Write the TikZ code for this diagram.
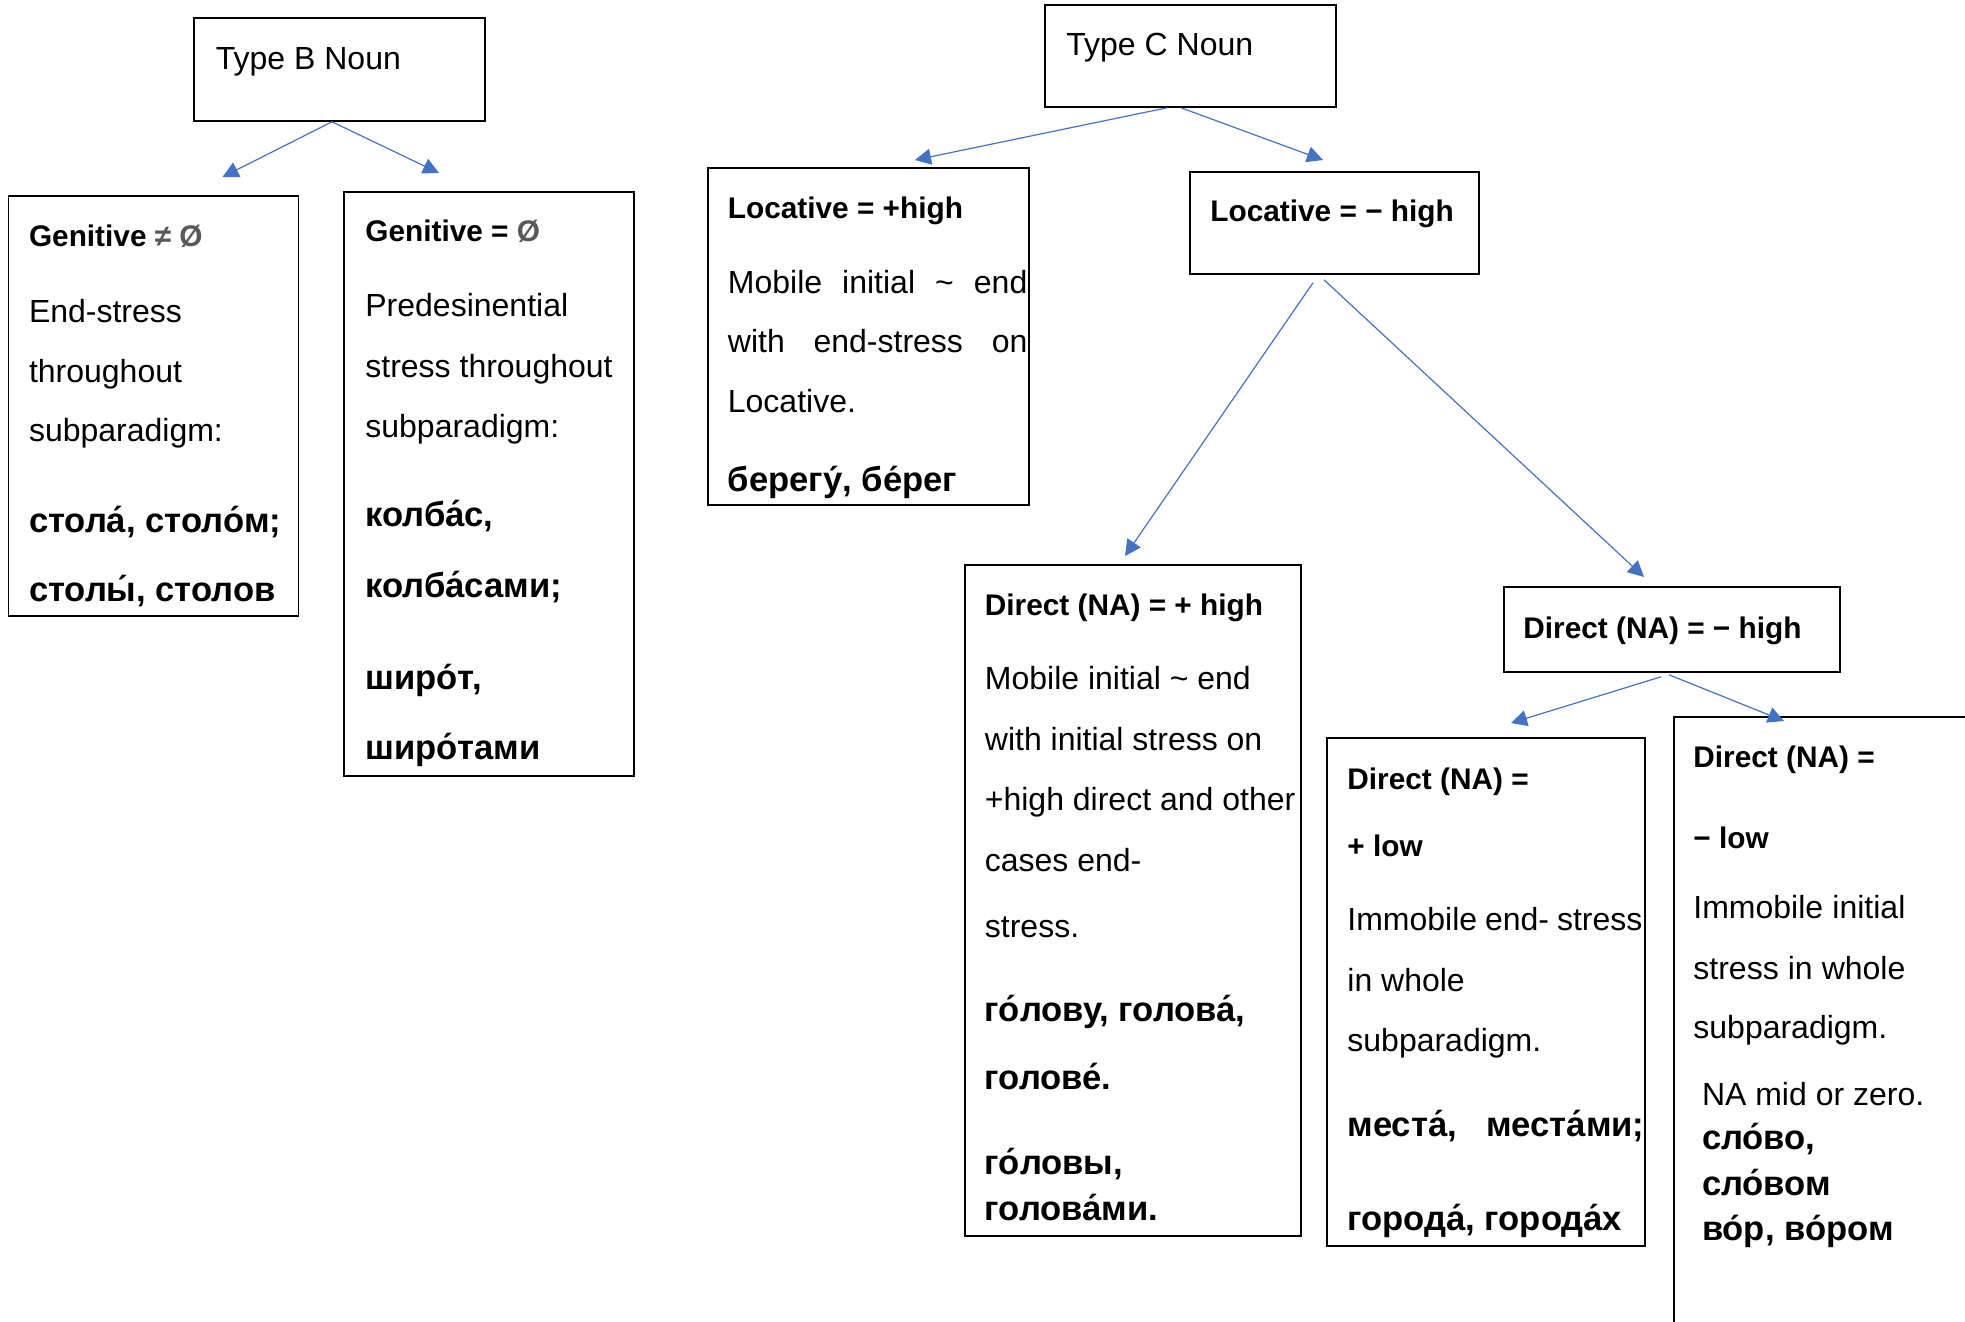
\documentclass[tikz,border=0pt]{standalone}
\usepackage{fontspec}
\setmainfont{Liberation Sans}
\usetikzlibrary{arrows.meta,calc}
\definecolor{arrowblue}{HTML}{4472C4}
\definecolor{symgray}{HTML}{595959}
\newcommand\rgf{\fontsize{16}{19}\selectfont}
\newcommand\hdf{\fontsize{14.9}{18}\selectfont\bfseries}
\newcommand\cyf{\fontsize{17.3}{20}\selectfont\bfseries}
\newcommand\jline[2]{\hbox to #1{#2}}
\begin{document}
\begin{tikzpicture}[x=0.5pt,y=-0.5pt,
  box/.style={draw,line width=0.9pt,inner sep=0pt,anchor=north west},
  txt/.style={anchor=base west,inner sep=0pt},
  arr/.style={draw=arrowblue,line width=0.6pt,-{Triangle[length=8pt,width=8pt]}}]
\clip (0,0) rectangle (1965,1322);
\fill[white] (0,0) rectangle (1965,1322);

% boxes
\node[box,minimum width=145.5pt,minimum height=51.5pt] (TypeB) at (193,17) {};
\node[box,minimum width=145pt,minimum height=210pt] (GenNe) at (7.5,195) {};
\node[box,minimum width=145pt,minimum height=292pt] (GenEq) at (343,191) {};
\node[box,minimum width=145.5pt,minimum height=51pt] (TypeC) at (1044,4) {};
\node[box,minimum width=160.5pt,minimum height=168.5pt] (LocPlus) at (707,167) {};
\node[box,minimum width=144.5pt,minimum height=51pt] (LocMinus) at (1189,171) {};
\node[box,minimum width=168pt,minimum height=335.5pt] (DirPH) at (964,564) {};
\node[box,minimum width=168pt,minimum height=42.5pt] (DirMH) at (1503,586) {};
\node[box,minimum width=159pt,minimum height=254pt] (DirPL) at (1326,737) {};
\node[box,minimum width=163pt,minimum height=321.5pt] (DirML) at (1673,716) {};

% arrows
\draw[arr] ($(TypeB.south west)+(139,0)$) -- ($(GenNe.north west)+(215,-18)$);
\draw[arr] ($(TypeB.south west)+(139,0)$) -- ($(GenEq.north west)+(96,-18)$);
\draw[arr] ($(TypeC.south west)+(123,0)$) -- ($(LocPlus.north west)+(208,-7)$);
\draw[arr] ($(TypeC.south west)+(137,0)$) -- ($(LocMinus.north west)+(134,-11)$);
\draw[arr] ($(LocMinus.south west)+(124,8)$) -- ($(DirPH.north west)+(161,-8)$);
\draw[arr] ($(LocMinus.south west)+(135,5)$) -- ($(DirMH.north west)+(141,-9)$);
\draw[arr] ($(DirMH.south west)+(158,4)$) -- ($(DirPL.north west)+(185,-14)$);
\draw[arr] ($(DirMH.south west)+(166,2)$) -- ($(DirML.north west)+(111,5)$);

% Type B / Type C titles
\node[txt,font=\rgf] (tB) at (215.5,70) {Type B Noun};
\node[txt,font=\rgf] (tC) at (1066,56) {Type C Noun};

% Genitive != 0
\node[txt,font=\hdf] (gn1) at (28.6,246) {Genitive {\color{symgray}≠ Ø}};
\node[txt,font=\rgf] (gn2) at (28.6,322) {End-stress};
\node[txt,font=\rgf] (gn3) at (28.6,382) {throughout};
\node[txt,font=\rgf] (gn4) at (28.6,441.5) {subparadigm:};
\node[txt,font=\cyf] (gn5) at (28.6,532) {стола^^^^0301, столо^^^^0301м;};
\node[txt,font=\cyf] (gn6) at (28.6,601) {столы^^^^0301, столов};

% Genitive = 0
\node[txt,font=\hdf] (ge1) at (365,241.5) {Genitive = {\color{symgray}Ø}};
\node[txt,font=\rgf] (ge2) at (365,316.5) {Predesinential};
\node[txt,font=\rgf] (ge3) at (365,377) {stress throughout};
\node[txt,font=\rgf] (ge4) at (365,437) {subparadigm:};
\node[txt,font=\cyf] (ge5) at (365,526) {колба^^^^0301с,};
\node[txt,font=\cyf] (ge6) at (365,597) {колба^^^^0301сами;};
\node[txt,font=\cyf] (ge7) at (365,689.5) {широ^^^^0301т,};
\node[txt,font=\cyf] (ge8) at (365,759) {широ^^^^0301тами};

% Locative = +high
\node[txt,font=\hdf] (lp1) at (727.5,218) {Locative = +high};
\node[txt,font=\rgf] (lp2) at (727.5,293.5) {\jline{149.75pt}{Mobile\hfill initial\hfill \textasciitilde\hfill end}};
\node[txt,font=\rgf] (lp3) at (727.5,352.5) {\jline{149.75pt}{with\hfill end-stress\hfill on}};
\node[txt,font=\rgf] (lp4) at (727.5,412.5) {Locative.};
\node[txt,font=\cyf] (lp5) at (727.5,491.7) {берегу^^^^0301, бе^^^^0301рег};

% Locative = - high
\node[txt,font=\hdf] (lm1) at (1210,221.7) {Locative = − high};

% Direct = + high
\node[txt,font=\hdf] (dp1) at (984.5,615) {Direct (NA) = + high};
\node[txt,font=\rgf] (dp2) at (984.5,689.5) {Mobile initial \textasciitilde\ end};
\node[txt,font=\rgf] (dp3) at (984.5,750) {with initial stress on};
\node[txt,font=\rgf] (dp4) at (984.5,810.5) {+high direct and other};
\node[txt,font=\rgf] (dp5) at (984.5,871) {cases end-};
\node[txt,font=\rgf] (dp6) at (984.5,937) {stress.};
\node[txt,font=\cyf] (dp7) at (984.5,1021) {го^^^^0301лову, голова^^^^0301,};
\node[txt,font=\cyf] (dp8) at (984.5,1089) {голове^^^^0301.};
\node[txt,font=\cyf] (dp9) at (984.5,1174) {го^^^^0301ловы,};
\node[txt,font=\cyf] (dp10) at (984.5,1220) {голова^^^^0301ми.};

% Direct = - high
\node[txt,font=\hdf] (dm1) at (1523,638) {Direct (NA) = − high};

% Direct = + low
\node[txt,font=\hdf] (pl1) at (1347,789.7) {Direct (NA) =};
\node[txt,font=\hdf] (pl2) at (1347,856) {+ low};
\node[txt,font=\rgf] (pl3) at (1347,930.5) {\jline{147.5pt}{Immobile\hfill end-\hfill stress}};
\node[txt,font=\rgf] (pl4) at (1347,991) {in whole};
\node[txt,font=\rgf] (pl5) at (1347,1051.5) {subparadigm.};
\node[txt,font=\cyf] (pl6) at (1347,1136) {\jline{148.5pt}{места^^^^0301,\hfill места^^^^0301ми;}};
\node[txt,font=\cyf] (pl7) at (1347,1230) {города^^^^0301, города^^^^0301х};

% Direct = - low
\node[txt,font=\hdf] (ml1) at (1693,767.6) {Direct (NA) =};
\node[txt,font=\hdf] (ml2) at (1693,848) {− low};
\node[txt,font=\rgf] (ml3) at (1693,918.5) {\jline{106pt}{Immobile\hfill initial}};
\node[txt,font=\rgf] (ml4) at (1693,979.5) {\jline{106pt}{stress\hfill in\hfill whole}};
\node[txt,font=\rgf] (ml5) at (1693,1038.5) {subparadigm.};
\node[txt,font=\rgf] (ml6) at (1701.6,1105.5) {NA mid or zero.};
\node[txt,font=\cyf] (ml7) at (1701.6,1149) {сло^^^^0301во,};
\node[txt,font=\cyf] (ml8) at (1701.6,1195) {сло^^^^0301вом};
\node[txt,font=\cyf] (ml9) at (1701.6,1240.4) {во^^^^0301р, во^^^^0301ром};
\end{tikzpicture}
\end{document}
